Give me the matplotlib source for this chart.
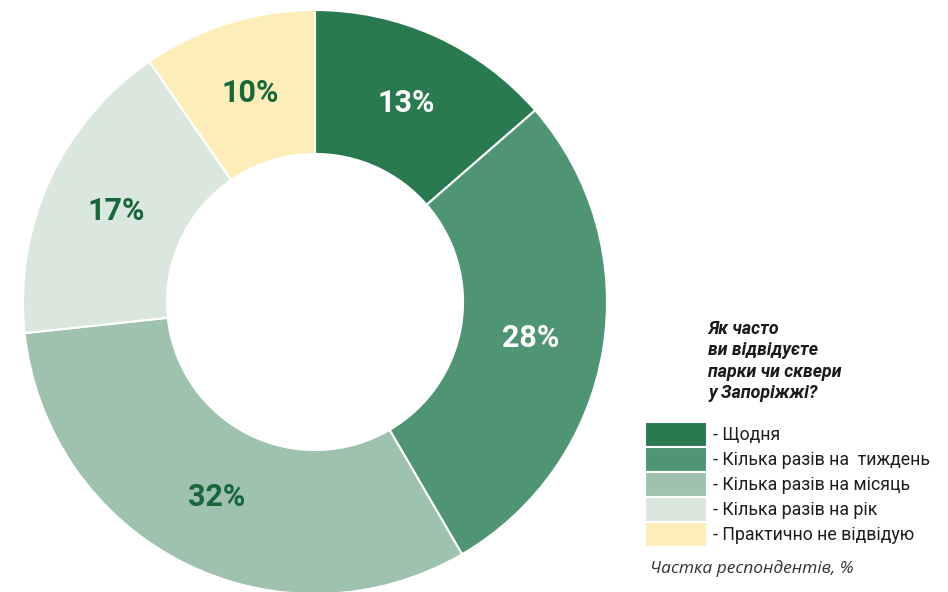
import matplotlib.pyplot as plt

plt.rcParams['font.family'] = ['Roboto', 'DejaVu Sans']

categories = ['- Щодня', '- Кілька разів на  тиждень', '- Кілька разів на місяць',
              '- Кілька разів на рік', '- Практично не відвідую']
shares = [13.6, 28.0, 31.7, 17.1, 9.6]
pct_labels = ['13%', '28%', '32%', '17%', '10%']
colors = ['#2a7a50', '#4f9574', '#9ec2ae', '#d9e7de', '#fdedb8']
label_colors = ['white', 'white', '#17673a', '#17673a', '#17673a']

fig = plt.figure(figsize=(9.48, 5.92), dpi=100)
# ring centre at about (315, 302) px, outer radius 292 px
ax = fig.add_axes([23 / 948, -2 / 592, 584 / 948, 584 / 592])

wedges, texts, autotexts = ax.pie(
    shares, colors=colors, startangle=90, counterclock=False, radius=1,
    autopct='%d', pctdistance=0.75,
    wedgeprops=dict(width=0.493, edgecolor='white', linewidth=1.5))
for t, lab, c in zip(autotexts, pct_labels, label_colors):
    t.set_text(lab)
    t.set_color(c)
    t.set_fontsize(22)
    t.set_fontweight('bold')
ax.set_xlim(-1, 1)
ax.set_ylim(-1, 1)
ax.set_aspect('equal')
ax.axis('off')

fig.text(708 / 948, 1 - 320 / 592,
         'Як часто\nви відвідуєте\nпарки чи сквери\nу Запоріжжі?',
         fontsize=12.8, fontweight='bold', fontstyle='italic', color='#1a1a1a',
         ha='left', va='top', linespacing=1.24)

leg = fig.legend(wedges, categories, loc='upper left',
                 bbox_to_anchor=(645 / 948, 1 - 422 / 592),
                 frameon=False, borderpad=0, borderaxespad=0,
                 fontsize=12.8, handlelength=3.48, handleheight=1.785,
                 labelspacing=0, handletextpad=0.32)
for t in leg.get_texts():
    t.set_color('#1e1e1e')

fig.text(650 / 948, 1 - 569 / 592, 'Частка респондентів, %',
         fontsize=12.5, fontstyle='italic', color='#333333',
         family=['Open Sans', 'DejaVu Sans'], ha='left', va='center')

fig.savefig('out.png', dpi=100)
